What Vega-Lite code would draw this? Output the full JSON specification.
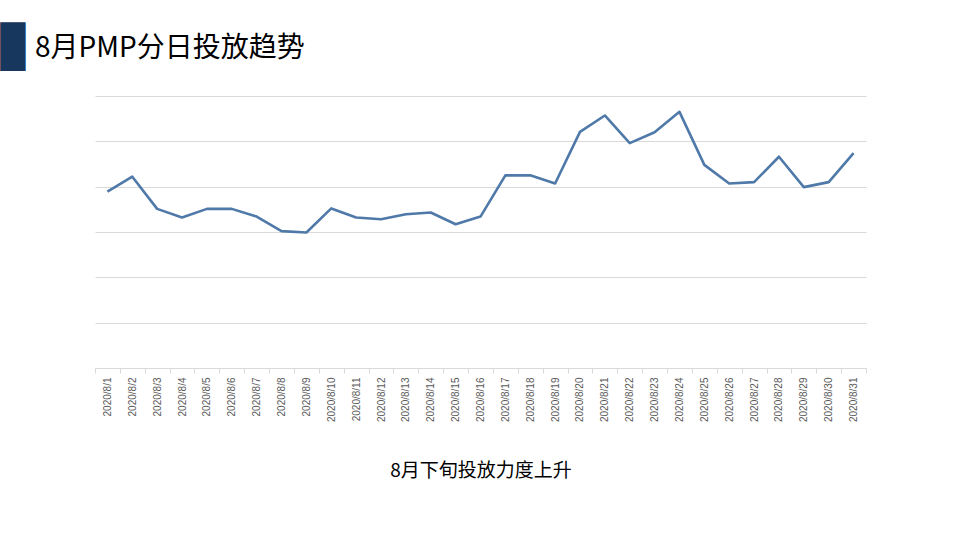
{
  "$schema": "https://vega.github.io/schema/vega-lite/v6.json",
  "autosize": {"type": "none"},
  "width": 771,
  "height": 272,
  "padding": {"left": 95, "top": 96, "right": 94, "bottom": 172},
  "background": "white",
  "config": {"view": {"stroke": null}, "font": "Liberation Sans"},
  "title": {
    "text": "8月PMP分日投放趋势",
    "anchor": "start",
    "frame": "group",
    "dx": -60,
    "dy": 58,
    "offset": 0,
    "baseline": "alphabetic",
    "fontSize": 28,
    "fontWeight": "normal",
    "font": "Noto Sans CJK SC",
    "color": "#000000"
  },
  "data": {
    "values": [
      {"date": "2020/8/1", "v": 38.9},
      {"date": "2020/8/2", "v": 42.2},
      {"date": "2020/8/3", "v": 35.1},
      {"date": "2020/8/4", "v": 33.2},
      {"date": "2020/8/5", "v": 35.1},
      {"date": "2020/8/6", "v": 35.1},
      {"date": "2020/8/7", "v": 33.4},
      {"date": "2020/8/8", "v": 30.2},
      {"date": "2020/8/9", "v": 29.9},
      {"date": "2020/8/10", "v": 35.2},
      {"date": "2020/8/11", "v": 33.2},
      {"date": "2020/8/12", "v": 32.8},
      {"date": "2020/8/13", "v": 33.9},
      {"date": "2020/8/14", "v": 34.3},
      {"date": "2020/8/15", "v": 31.7},
      {"date": "2020/8/16", "v": 33.4},
      {"date": "2020/8/17", "v": 42.5},
      {"date": "2020/8/18", "v": 42.5},
      {"date": "2020/8/19", "v": 40.7},
      {"date": "2020/8/20", "v": 52.1},
      {"date": "2020/8/21", "v": 55.7},
      {"date": "2020/8/22", "v": 49.6},
      {"date": "2020/8/23", "v": 52.0},
      {"date": "2020/8/24", "v": 56.5},
      {"date": "2020/8/25", "v": 44.8},
      {"date": "2020/8/26", "v": 40.7},
      {"date": "2020/8/27", "v": 41.0},
      {"date": "2020/8/28", "v": 46.6},
      {"date": "2020/8/29", "v": 39.9},
      {"date": "2020/8/30", "v": 41.0},
      {"date": "2020/8/31", "v": 47.4}
    ]
  },
  "mark": {"type": "line", "color": "#4f79a8", "strokeWidth": 2.6, "strokeJoin": "round"},
  "encoding": {
    "x": {
      "field": "date",
      "type": "ordinal",
      "sort": null,
      "scale": {"type": "band", "paddingInner": 0, "paddingOuter": 0},
      "axis": {
        "title": "8月下旬投放力度上升",
        "titleFont": "Noto Sans CJK SC",
        "titleFontSize": 19,
        "titleFontWeight": "normal",
        "titleColor": "#000000",
        "titleY": 102,
        "titleBaseline": "middle",
        "labelAngle": -90,
        "labelFontSize": 10,
        "labelColor": "#595959",
        "labelPadding": 4,
        "tickBand": "extent",
        "tickSize": 5,
        "tickColor": "#d9d9d9",
        "domainColor": "#d9d9d9",
        "grid": false
      }
    },
    "y": {
      "field": "v",
      "type": "quantitative",
      "scale": {"domain": [0, 60], "nice": false, "zero": true},
      "axis": {
        "values": [0, 10, 20, 30, 40, 50, 60],
        "labels": false,
        "ticks": false,
        "domain": false,
        "grid": true,
        "gridColor": "#d9d9d9",
        "gridWidth": 1,
        "title": "█",
        "titleFont": "DejaVu Sans Mono",
        "titleFontSize": 41,
        "titleFontWeight": "normal",
        "titleColor": "#17375e",
        "titleAngle": 0,
        "titleAlign": "left",
        "titleBaseline": "middle",
        "titleX": -95,
        "titleY": -48
      }
    }
  }
}
